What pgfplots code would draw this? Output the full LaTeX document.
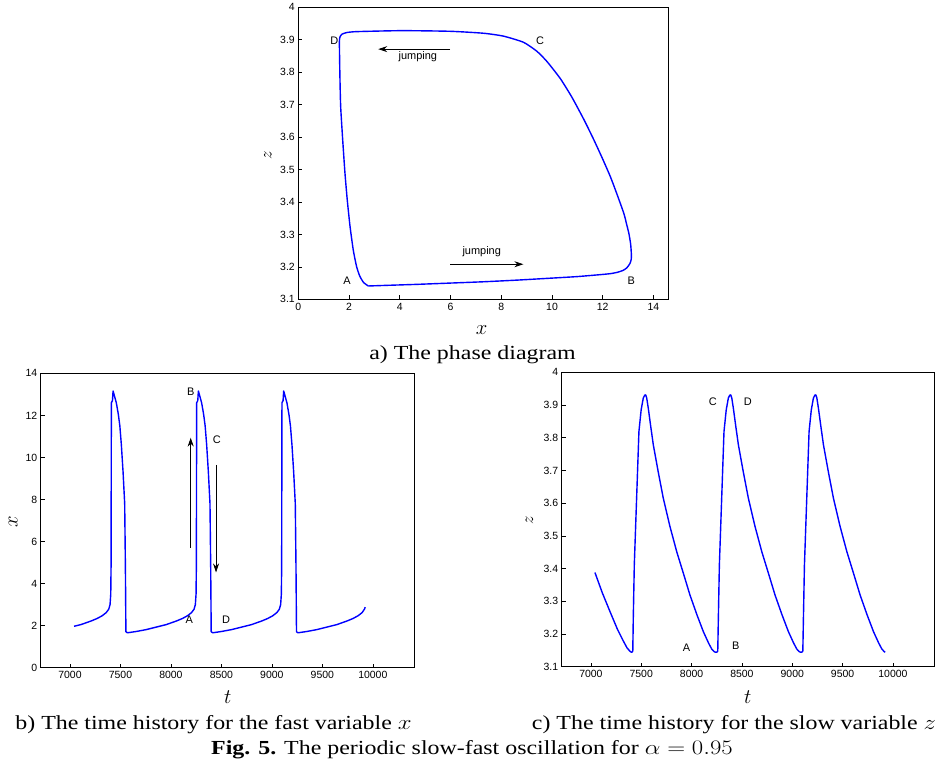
\documentclass[border=0pt]{standalone}
\usepackage{fontspec}
\setmainfont{Liberation Serif}
\newfontfamily\arial{Liberation Sans}
\usepackage{pgfplots}
\usepackage{pgfplotstable}
\pgfplotsset{compat=1.18}
\usetikzlibrary{arrows.meta}

\pgfplotstableread{
x z
2.76 3.141
3.50 3.143
4.67 3.146
6.00 3.150
7.30 3.154
8.60 3.159
9.93 3.165
11.00 3.170
11.91 3.176
12.30 3.179
12.57 3.183
12.80 3.189
12.95 3.197
13.07 3.210
13.12 3.222
13.13 3.236
13.10 3.270
13.03 3.303
12.93 3.335
12.83 3.365
12.57 3.422
12.30 3.478
11.97 3.537
11.64 3.593
11.25 3.655
10.79 3.722
10.33 3.780
9.80 3.833
9.41 3.864
8.88 3.892
8.09 3.911
7.30 3.920
5.99 3.926
4.08 3.928
2.30 3.925
1.90 3.922
1.72 3.917
1.64 3.908
1.62 3.889
1.64 3.787
1.67 3.694
1.75 3.591
1.84 3.488
1.93 3.406
2.04 3.324
2.17 3.250
2.30 3.200
2.42 3.172
2.57 3.152
2.76 3.141
}\phase

\pgfplotstableread{
t x
7040 1.97
7109 2.05
7209 2.22
7269 2.34
7319 2.47
7359 2.62
7384 2.78
7397 3.00
7404 3.50
7407 4.80
7410 12.60
7421 12.70
7427 13.16
7439 12.95
7459 12.60
7479 12.05
7494 11.50
7509 10.60
7526 9.30
7542 7.80
7549 4.80
7554 1.71
7569 1.66
7654 1.72
7754 1.81
7854 1.93
7954 2.05
8054 2.22
8114 2.34
8164 2.47
8204 2.62
8229 2.78
8242 3.00
8249 3.50
8252 4.80
8255 12.60
8266 12.70
8272 13.16
8284 12.95
8304 12.60
8324 12.05
8339 11.50
8354 10.60
8371 9.30
8387 7.80
8394 4.80
8399 1.71
8414 1.66
8499 1.72
8599 1.81
8699 1.93
8799 2.05
8899 2.22
8959 2.34
9009 2.47
9049 2.62
9074 2.78
9087 3.00
9094 3.50
9097 4.80
9100 12.60
9111 12.70
9117 13.16
9129 12.95
9149 12.60
9169 12.05
9184 11.50
9199 10.60
9216 9.30
9232 7.80
9239 4.80
9244 1.71
9259 1.66
9344 1.72
9444 1.81
9544 1.93
9644 2.05
9744 2.22
9804 2.34
9854 2.47
9894 2.62
9919 2.80
9924 2.88
}\xtime

\pgfplotstableread{
t z
7040 3.388
7113 3.326
7193 3.266
7264 3.214
7323 3.178
7358 3.158
7385 3.148
7403 3.144
7411 3.145
7416 3.148
7421 3.250
7431 3.411
7454 3.615
7477 3.819
7499 3.885
7520 3.921
7534 3.930
7544 3.931
7554 3.922
7570 3.890
7594 3.835
7620 3.778
7669 3.695
7719 3.615
7784 3.530
7852 3.452
7919 3.385
7984 3.319
8054 3.258
8117 3.207
8169 3.172
8200 3.154
8224 3.146
8240 3.144
8254 3.145
8260 3.148
8266 3.250
8276 3.411
8299 3.615
8322 3.819
8344 3.885
8365 3.921
8379 3.930
8389 3.931
8399 3.922
8415 3.890
8439 3.835
8465 3.778
8514 3.695
8564 3.615
8629 3.530
8697 3.452
8764 3.385
8829 3.319
8899 3.258
8962 3.207
9014 3.172
9045 3.154
9069 3.146
9085 3.144
9099 3.145
9105 3.148
9111 3.250
9121 3.411
9144 3.615
9167 3.819
9189 3.885
9210 3.921
9224 3.930
9234 3.931
9244 3.922
9260 3.890
9284 3.835
9310 3.778
9359 3.695
9409 3.615
9474 3.530
9542 3.452
9609 3.385
9674 3.319
9744 3.258
9807 3.207
9859 3.172
9890 3.154
9914 3.146
9923 3.144
}\ztime

\pgfplotsset{
  mystyle/.style={
    scale only axis, anchor=south west,
    axis line style={black, line width=1bp},
    tick align=inside, xtick pos=bottom, ytick pos=left,
    major tick length=4bp,
    tick style={black, line width=0.6bp},
    tick label style={font=\arial\fontsize{10.5}{12}\selectfont},
    /pgf/number format/assume math mode=true,
    /pgf/number format/1000 sep={},
    scaled ticks=false,
  },
  curve/.style={color={rgb,255:red,0;green,0;blue,255}, line width=1.4bp, line join=round},
}
\newcommand{\lab}{\arial\fontsize{11}{12}\selectfont}

\begin{document}
\begin{tikzpicture}[x=1bp,y=1bp]
\useasboundingbox (0,0) rectangle (937,766);

% a) phase diagram
\begin{axis}[mystyle, at={(298.3bp,466.7bp)}, width=370.4bp, height=292bp,
  xmin=0, xmax=14.6, ymin=3.1, ymax=4,
  xtick={0,2,...,14}, ytick={3.1,3.2,3.3,3.4,3.5,3.6,3.7,3.8,3.9,4}]
  \addplot[curve, smooth, tension=0.35] table[x=x,y=z] {\phase};
  \node[font=\lab] at (axis cs:1.42,3.896) {D};
  \node[font=\lab] at (axis cs:9.53,3.896) {C};
  \node[font=\lab] at (axis cs:1.92,3.156) {A};
  \node[font=\lab] at (axis cs:13.12,3.156) {B};
  \draw[black, line width=0.8bp, -{Stealth[length=9bp,width=6bp]}] (axis cs:5.98,3.871) -- (axis cs:3.15,3.871);
  \node[font=\lab] at (axis cs:4.71,3.848) {jumping};
  \draw[black, line width=0.8bp, -{Stealth[length=9bp,width=6bp]}] (axis cs:5.98,3.208) -- (axis cs:8.87,3.208);
  \node[font=\lab] at (axis cs:7.23,3.247) {jumping};
\end{axis}
\node at (481.7,436) {\fontsize{20}{22}\selectfont$x$};
\node[rotate=90] at (268,611) {\fontsize{16}{18}\selectfont$z$};

% b) x(t)
\begin{axis}[mystyle, at={(40.7bp,98.3bp)}, width=374bp, height=294.4bp,
  xmin=6710, xmax=10415, ymin=0, ymax=14,
  xtick={7000,7500,...,10000}, ytick={0,2,...,14}]
  \addplot[curve] table[x=t,y=x] {\xtime};
  \node[font=\lab] at (axis cs:8196,13.13) {B};
  \node[font=\lab] at (axis cs:8454,10.83) {C};
  \node[font=\lab] at (axis cs:8183,2.30) {A};
  \node[font=\lab] at (axis cs:8546,2.27) {D};
  \draw[black, line width=0.8bp, -{Stealth[length=9bp,width=6bp]}] (axis cs:8196,5.71) -- (axis cs:8196,10.94);
  \draw[black, line width=0.8bp, -{Stealth[length=9bp,width=6bp]}] (axis cs:8447,9.64) -- (axis cs:8447,4.53);
\end{axis}
\node at (227.7,69.3) {\fontsize{20}{22}\selectfont$t$};
\node[rotate=90] at (13.3,244.3) {\fontsize{20}{22}\selectfont$x$};

% c) z(t)
\begin{axis}[mystyle, at={(561.7bp,99.3bp)}, width=373bp, height=294.4bp,
  xmin=6710, xmax=10415, ymin=3.1, ymax=4,
  xtick={7000,7500,...,10000}, ytick={3.1,3.2,3.3,3.4,3.5,3.6,3.7,3.8,3.9,4}]
  \addplot[curve] table[x=t,y=z] {\ztime};
  \node[font=\lab] at (axis cs:8210,3.910) {C};
  \node[font=\lab] at (axis cs:8558,3.910) {D};
  \node[font=\lab] at (axis cs:7951,3.159) {A};
  \node[font=\lab] at (axis cs:8439,3.163) {B};
\end{axis}
\node at (747.7,69.3) {\fontsize{20}{22}\selectfont$t$};
\node[rotate=90] at (529.3,246) {\fontsize{16}{18}\selectfont$z$};

% captions
\node[anchor=base, inner sep=0pt] at (472.5,406) {\scalebox{1.2}[1]{\fontsize{20}{22}\selectfont a) The phase diagram}};
\node[anchor=base, inner sep=0pt] at (213.5,36) {\scalebox{1.2}[1]{\fontsize{20}{22}\selectfont b) The time history for the fast variable $x$}};
\node[anchor=base, inner sep=0pt] at (734,36) {\scalebox{1.2}[1]{\fontsize{20}{22}\selectfont c) The time history for the slow variable $z$}};
\node[anchor=base, inner sep=0pt] at (472,11) {\scalebox{1.2}[1]{\fontsize{20}{22}\selectfont \textbf{Fig. 5.} The periodic slow-fast oscillation for $\alpha=0.95$}};
\end{tikzpicture}
\end{document}
